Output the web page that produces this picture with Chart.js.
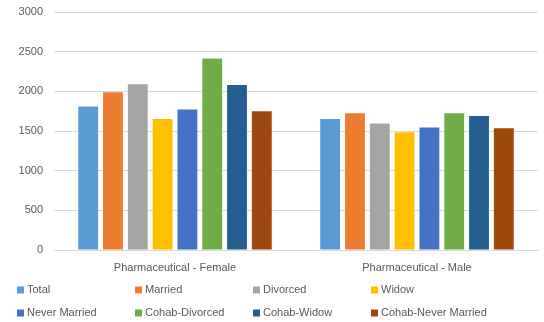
<!DOCTYPE html>
<html>
<head>
<meta charset="utf-8">
<script src="https://cdn.jsdelivr.net/npm/chart.js@4/dist/chart.umd.min.js"></script>
<style>
  html, body { margin: 0; padding: 0; background: #fff; }
  #wrap { width: 544px; height: 322px; position: relative; }
</style>
</head>
<body>
<div id="wrap"><canvas id="chart"></canvas></div>
<script>
const categories = ['Pharmaceutical - Female', 'Pharmaceutical - Male'];
const seriesNames = ['Total', 'Married', 'Divorced', 'Widow', 'Never Married', 'Cohab-Divorced', 'Cohab-Widow', 'Cohab-Never Married'];
const seriesColors = ['#5B9BD5', '#ED7D31', '#A5A5A5', '#FFC000', '#4472C4', '#70AD47', '#255E91', '#9E480E'];

// one value per category: [Female, Male]
const total = [1810, 1650];
const married = [1990, 1725];
const divorced = [2090, 1595];
const widow = [1650, 1485];
const neverMarried = [1770, 1545];
const cohabDivorced = [2415, 1725];
const cohabWidow = [2080, 1690];
const cohabNeverMarried = [1750, 1535];

const yTicks = [0, 500, 1000, 1500, 2000, 2500, 3000];

const seriesValues = [total, married, divorced, widow, neverMarried, cohabDivorced, cohabWidow, cohabNeverMarried];

const FONT = "'Liberation Sans', Arial, sans-serif";
const TEXT = '#595959';

// legend in a 4-column grid under the axis
const gridLegend = {
  id: 'gridLegend',
  afterDraw(chart) {
    const ctx = chart.ctx;
    ctx.save();
    ctx.font = '11px ' + FONT;
    ctx.textBaseline = 'middle';
    ctx.textAlign = 'left';
    chart.data.datasets.forEach((ds, i) => {
      const col = i % 4, row = Math.floor(i / 4);
      const x = 17 + col * 118;
      const y = 290 + row * 23;
      ctx.fillStyle = ds.backgroundColor;
      ctx.fillRect(x, y - 3.5, 7, 7);
      ctx.fillStyle = TEXT;
      ctx.fillText(ds.label, x + 10, y);
    });
    ctx.restore();
  }
};

new Chart(document.getElementById('chart'), {
  type: 'bar',
  data: {
    labels: categories,
    datasets: seriesNames.map((name, i) => ({
      label: name,
      data: seriesValues[i],
      backgroundColor: seriesColors[i],
      borderWidth: 0,
      categoryPercentage: 0.82,
      barPercentage: 0.8
    }))
  },
  options: {
    responsive: true,
    maintainAspectRatio: false,
    animation: false,
    layout: { padding: { top: 12, right: 6, bottom: 46, left: 0 } },
    plugins: {
      legend: { display: false },
      tooltip: { enabled: false }
    },
    scales: {
      x: {
        grid: { display: false, drawTicks: false },
        border: { display: true, color: '#d9d9d9' },
        ticks: { color: TEXT, font: { family: FONT, size: 11 }, padding: 11 },
        afterFit: s => { s.height = 26; }
      },
      y: {
        min: 0,
        max: 3000,
        afterBuildTicks: s => { s.ticks = yTicks.map(v => ({ value: v })); },
        grid: { color: '#d9d9d9', drawTicks: false },
        border: { display: false },
        ticks: {
          color: TEXT,
          font: { family: FONT, size: 11 },
          padding: 11,
          callback: v => String(v)
        },
        afterFit: s => { s.width = 54; s.paddingTop = 0; s.paddingBottom = 0; }
      }
    }
  },
  plugins: [gridLegend]
});
</script>
</body>
</html>
